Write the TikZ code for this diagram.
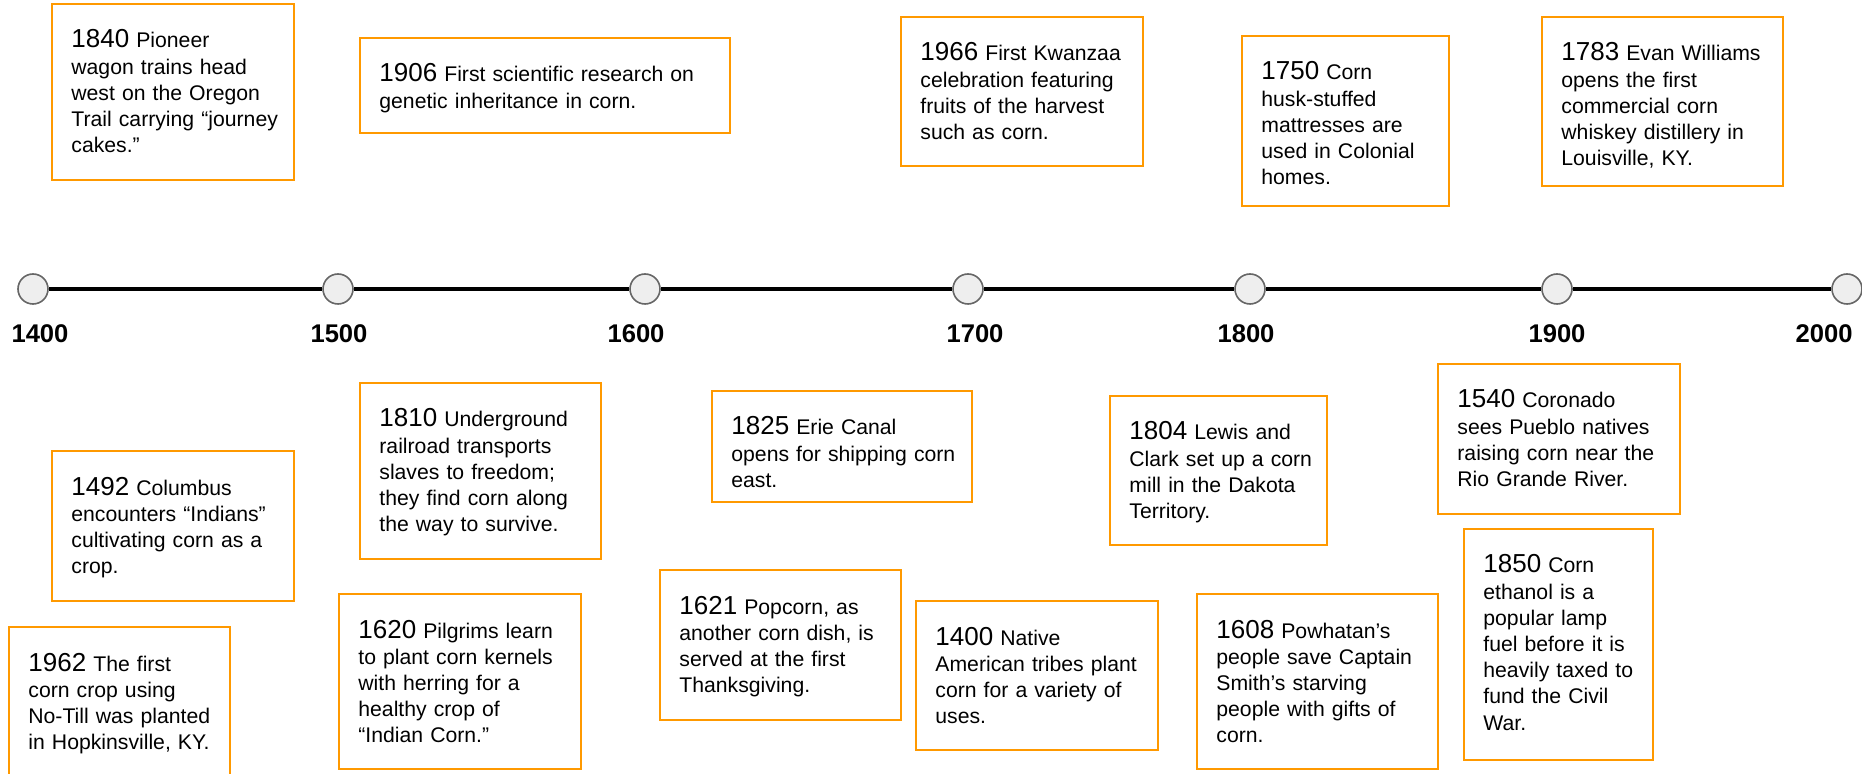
\documentclass[tikz,border=0pt]{standalone}
\usepackage{fontspec}
\setmainfont{Liberation Sans}
\usetikzlibrary{fit}
\definecolor{evorange}{HTML}{FF9900}
\definecolor{dotfill}{HTML}{EEEEEE}
\definecolor{dotline}{HTML}{666666}
\newcommand\yearfont{\fontsize{13}{13.1}\selectfont}
\newcommand\descfont{\fontsize{10.6}{13.1}\selectfont}
\newcommand\axisfont{\fontsize{12.8}{15}\selectfont\bfseries}
\newcommand\tlevent[7]{%
  \node[evbox, fit={(#2,#3) (#4,#5)}] (#1) {};
  \node[evtext] (#1t) at (#2+19,#3+44) {{\yearfont #6} #7};
}
\begin{document}
\begin{tikzpicture}[x=0.5pt,y=-0.5pt,
  evbox/.style={rectangle, draw=evorange, line width=1pt, inner sep=0pt},
  evtext/.style={anchor=base west, text width=200pt, align=left, inner sep=0pt, font=\descfont, text=black},
  dot/.style={circle, draw=dotline, fill=dotfill, line width=0.8pt, minimum size=15pt, inner sep=0pt},
  timeline/.style={line width=1.6pt, black},
  axislabel/.style={anchor=base, font=\axisfont, inner sep=0pt}]
\clip (0,0) rectangle (1862,774);
% timeline dots
\node[dot] (d1400) at (33,289) {};
\node[dot] (d1500) at (338,289) {};
\node[dot] (d1600) at (645,289) {};
\node[dot] (d1700) at (968,289) {};
\node[dot] (d1800) at (1250,289) {};
\node[dot] (d1900) at (1557,289) {};
\node[dot] (d2000) at (1847,289) {};
\draw[timeline] (d1400) -- (d1500);
\draw[timeline] (d1500) -- (d1600);
\draw[timeline] (d1600) -- (d1700);
\draw[timeline] (d1700) -- (d1800);
\draw[timeline] (d1800) -- (d1900);
\draw[timeline] (d1900) -- (d2000);
% axis labels
\node[axislabel] (l1400) at (40,343) {1400};
\node[axislabel] (l1500) at (339,343) {1500};
\node[axislabel] (l1600) at (636,343) {1600};
\node[axislabel] (l1700) at (975,343) {1700};
\node[axislabel] (l1800) at (1246,343) {1800};
\node[axislabel] (l1900) at (1557,343) {1900};
\node[axislabel] (l2000) at (1824,343) {2000};
% events above
\tlevent{e1840}{52}{4}{294}{180}{1840}{Pioneer\\wagon trains head\\west on the Oregon\\Trail carrying “journey\\cakes.”}
\tlevent{e1906}{360}{38}{730}{133}{1906}{First scientific research on\\genetic inheritance in corn.}
\tlevent{e1966}{901}{17}{1143}{166}{1966}{First Kwanzaa\\celebration featuring\\fruits of the harvest\\such as corn.}
\tlevent{e1750}{1242}{36}{1449}{206}{1750}{Corn\\husk-stuffed\\mattresses are\\used in Colonial\\homes.}
\tlevent{e1783}{1542}{17}{1783}{186}{1783}{Evan Williams\\opens the first\\commercial corn\\whiskey distillery in\\Louisville, KY.}
% events below
\tlevent{e1492}{52}{451}{294}{601}{1492}{Columbus\\encounters “Indians”\\cultivating corn as a\\crop.}
\tlevent{e1810}{360}{383}{601}{559}{1810}{Underground\\railroad transports\\slaves to freedom;\\they find corn along\\the way to survive.}
\tlevent{e1962}{9}{627}{230}{800}{1962}{The first\\corn crop using\\No-Till was planted\\in Hopkinsville, KY.}
\tlevent{e1620}{339}{594}{581}{769}{1620}{Pilgrims learn\\to plant corn kernels\\with herring for a\\healthy crop of\\“Indian Corn.”}
\tlevent{e1825}{712}{391}{972}{502}{1825}{Erie Canal\\opens for shipping corn\\east.}
\tlevent{e1621}{660}{570}{901}{720}{1621}{Popcorn, as\\another corn dish, is\\served at the first\\Thanksgiving.}
\tlevent{e1400}{916}{601}{1158}{750}{1400}{Native\\American tribes plant\\corn for a variety of\\uses.}
\tlevent{e1804}{1110}{396}{1327}{545}{1804}{Lewis and\\Clark set up a corn\\mill in the Dakota\\Territory.}
\tlevent{e1608}{1197}{594}{1438}{769}{1608}{Powhatan’s\\people save Captain\\Smith’s starving\\people with gifts of\\corn.}
\tlevent{e1540}{1438}{364}{1680}{514}{1540}{Coronado\\sees Pueblo natives\\raising corn near the\\Rio Grande River.}
\tlevent{e1850}{1464}{529}{1653}{760}{1850}{Corn\\ethanol is a\\popular lamp\\fuel before it is\\heavily taxed to\\fund the Civil\\War.}
\end{tikzpicture}
\end{document}
